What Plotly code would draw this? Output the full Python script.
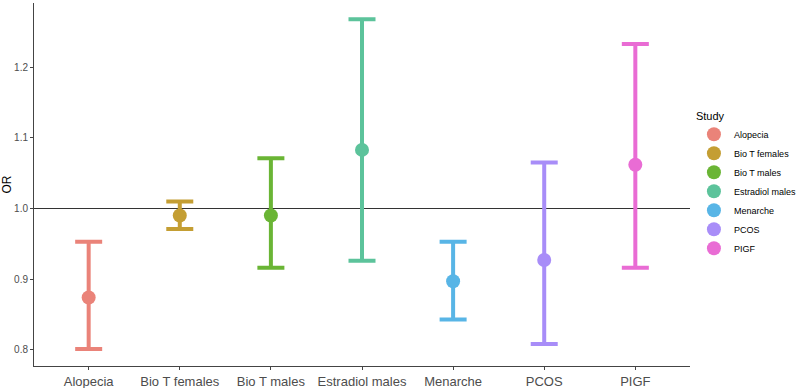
import plotly.graph_objects as go

studies = ["Alopecia", "Bio T females", "Bio T males", "Estradiol males", "Menarche", "PCOS", "PIGF"]
or_values = [0.874, 0.990, 0.990, 1.083, 0.897, 0.927, 1.062]
ci_lower = [0.801, 0.971, 0.916, 0.926, 0.843, 0.808, 0.916]
ci_upper = [0.953, 1.010, 1.071, 1.268, 0.953, 1.065, 1.233]
colors = ["#EA8379", "#C49E33", "#6AB535", "#5CC39B", "#58B5E6", "#A88DF8", "#E96CD4"]
y_ticks = [0.8, 0.9, 1.0, 1.1, 1.2]

fig = go.Figure()
for s, v, lo, hi, c in zip(studies, or_values, ci_lower, ci_upper, colors):
    fig.add_trace(go.Scatter(
        x=[s], y=[v], mode="markers", name=s,
        marker=dict(size=14, color=c),
        error_y=dict(type="data", symmetric=False, array=[hi - v], arrayminus=[v - lo],
                     color=c, thickness=4, width=13.5),
    ))

fig.add_shape(type="line", xref="paper", x0=0, x1=1, yref="y", y0=1.0, y1=1.0,
              line=dict(color="#333333", width=1), layer="below")

fig.update_layout(
    width=796, height=388,
    margin=dict(l=34, r=106, t=3, b=22, autoexpand=False),
    paper_bgcolor="white", plot_bgcolor="white",
    hovermode=False,
    font=dict(family="Liberation Sans, Arial, sans-serif", color="#4D4D4D"),
    legend=dict(
        title=dict(text="Study", font=dict(size=11, color="black")),
        font=dict(size=9, color="black"),
        bgcolor="rgba(0,0,0,0)",
        x=1.006, xanchor="left", y=0.5, yanchor="middle",
        itemsizing="trace", tracegroupgap=0,
    ),
    xaxis=dict(
        type="category", categoryorder="array", categoryarray=studies,
        range=[-0.6, 6.6], showgrid=False, zeroline=False, automargin=False,
        showline=True, linecolor="#444444", linewidth=1,
        ticks="outside", ticklen=3, tickcolor="#444444",
        tickfont=dict(size=13, color="#4D4D4D"),
    ),
    yaxis=dict(
        range=[0.777, 1.291], showgrid=False, zeroline=False, automargin=False,
        showline=True, linecolor="#444444", linewidth=1,
        ticks="outside", ticklen=3, tickcolor="#444444",
        tickvals=y_ticks, ticktext=[f"{t:.1f}" for t in y_ticks],
        tickfont=dict(size=10, color="#4D4D4D"),
        title=dict(text="OR", font=dict(size=12, color="black"), standoff=6),
    ),
)

fig.write_html("out.html", config={"displayModeBar": False},
               post_script="document.body.style.margin='0';document.body.style.overflow='hidden';")
